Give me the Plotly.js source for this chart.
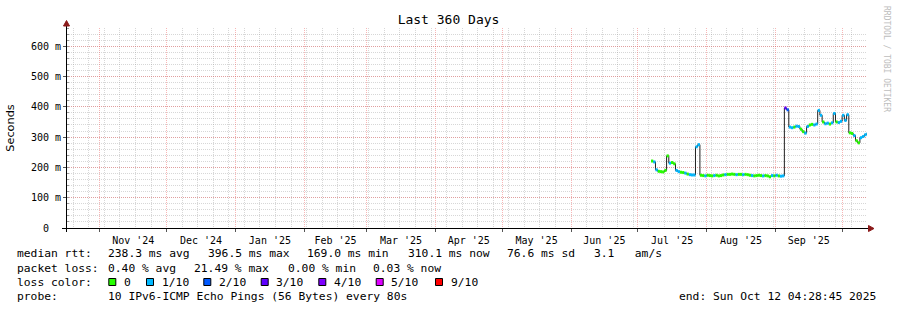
<!DOCTYPE html>
<html><head><meta charset="utf-8">
<script src="https://cdn.plot.ly/plotly-3.0.1.min.js"></script>
<style>html,body{margin:0;padding:0;background:#fff;}#chart{width:897px;height:310px;}</style>
</head><body><div id="chart"></div>
<script>
// ---- data ----
const rangeStart = '2024-10-17 04:28:45';
const rangeEnd = '2025-10-12 04:28:45';
const seriesStartUTC = [2025, 6, 7]; // 2025-07-07, one value per day
const medianRtt = [
 221, 218, 192, 187, 186, 185, 190, 238, 214, 216,
 212, 190, 186, 184, 183, 181, 178, 176, 175, 175,
 268, 275, 174, 173, 172, 174, 173, 172, 173, 174,
 172, 173, 175, 176, 177, 177, 178, 177, 176, 177,
 177, 176, 177, 176, 174, 173, 172, 173, 174, 173,
 172, 173, 172, 169, 173, 172, 174, 172, 171, 172,
 396, 390, 333, 331, 333, 336, 335, 326, 318, 313,
 335, 340, 342, 340, 343, 388, 372, 350, 344, 346,
 343, 347, 378, 350, 348, 352, 372, 355, 374, 314,
 312, 305, 288, 281, 298, 302, 308, 311
];
const lossTenths = [
 0,1,1,0,0,0,0,0,1,0,
 0,1,1,0,0,1,0,1,1,1,
 1,1,0,0,1,0,0,0,1,0,
 0,0,0,1,0,0,0,0,1,0,
 0,1,0,0,0,1,0,0,0,0,
 1,0,0,0,1,0,1,0,1,1,
 3,2,1,1,0,1,1,0,0,1,
 1,0,0,1,1,1,1,0,1,1,
 0,1,1,0,1,1,1,1,1,0,
 0,1,0,0,1,1,1,1
];
const lossLevels = [0, 1, 2, 3, 4, 5, 9];
const lossLabels = ['0', '1/10', '2/10', '3/10', '4/10', '5/10', '9/10'];
const lossColors = ['#26ff00', '#00b8ff', '#0059ff', '#5e00ff', '#7e00ff', '#dd00ff', '#ff0000'];
const yTickVals = [0, 100, 200, 300, 400, 500, 600];
const yTickText = ['0\u00a0\u00a0', '100 m', '200 m', '300 m', '400 m', '500 m', '600 m'];
const rttLabel = 'median rtt:';
const rttStats = ['238.3 ms avg', '396.5 ms max', '169.0 ms min', '310.1 ms now', '76.6 ms sd', '3.1   am/s'];
const lossLabel = 'packet loss:';
const lossStats = ['0.40 % avg', '21.49 % max', '0.00 % min', '0.03 % now'];
const colorLabel = 'loss color:';
const probeLabel = 'probe:';
const probeText = '10 IPv6-ICMP Echo Pings (56 Bytes) every 80s';
const endText = 'end: Sun Oct 12 04:28:45 2025';
const titleText = 'Last 360 Days';
const watermark = 'RRDTOOL / TOBI OETIKER';

// ---- layout helpers (pixel -> paper) ----
const L = 67, T = 28, W = 800, H = 200;
const px = x => (x - L) / W;
const py = y => (T + H - y) / H;
const MONO = 'DejaVu Sans Mono';

const days = medianRtt.map((_, i) => {
  const d = new Date(Date.UTC(seriesStartUTC[0], seriesStartUTC[1], seriesStartUTC[2] + i));
  return d.toISOString().slice(0, 10);
});
const xsLine = days.concat([rangeEnd]);
const ysLine = medianRtt.concat([medianRtt[medianRtt.length - 1]]);

const traces = [{
  type: 'scatter', mode: 'lines', x: xsLine, y: ysLine,
  line: {color: '#202020', width: 1, shape: 'hv'}, hoverinfo: 'skip', showlegend: false
}];
function levelIndex(v) {
  let idx = 0;
  for (let k = 0; k < lossLevels.length; k++) if (v >= lossLevels[k]) idx = k;
  return idx;
}
lossLevels.forEach((lv, k) => {
  const x = [], y = [];
  medianRtt.forEach((v, i) => {
    if (levelIndex(lossTenths[i]) === k) {
      x.push(xsLine[i], xsLine[i + 1], null);
      y.push(v, v, null);
    }
  });
  if (x.length) traces.push({
    type: 'scatter', mode: 'lines', x, y, connectgaps: false,
    line: {color: lossColors[k], width: 3}, hoverinfo: 'skip', showlegend: false
  });
});

const ann = [];
function txt(text, x, y, extra) {
  ann.push(Object.assign({text, x: px(x), y: py(y), xref: 'paper', yref: 'paper',
    xanchor: 'left', yanchor: 'middle', showarrow: false, borderpad: 0,
    font: {family: MONO, size: 11.3, color: '#000'}}, extra || {}));
}
// row 1
txt(rttLabel, 16, 254);
[107.3, 207.3, 305.7, 407.3, 506, 593.3].forEach((x, i) => txt(rttStats[i], x, 254));
// row 2
txt(lossLabel, 16, 268.3);
[107.3, 193.3, 286.7, 372.3].forEach((x, i) => txt(lossStats[i], x, 268.3));
// row 3
txt(colorLabel, 16, 282.3);
const boxX = [108.3, 146, 203.3, 260.7, 318.3, 375.7, 435];
const labX = [123.3, 160.7, 218.3, 275.3, 333.3, 390, 450];
const shapes = [];
lossLabels.forEach((lab, i) => {
  txt(lab, labX[i], 282.3);
  shapes.push({type: 'rect', xref: 'paper', yref: 'paper',
    x0: px(boxX[i] + 0.5), x1: px(boxX[i] + 7.5), y0: py(278.5), y1: py(285.5),
    fillcolor: lossColors[i], line: {color: '#000', width: 1}});
});
// row 4
txt(probeLabel, 16, 296);
txt(probeText, 107.3, 296);
txt(endText, 678.3, 296);
// watermark
ann.push({text: watermark, x: px(887), y: py(59), xref: 'paper', yref: 'paper',
  xanchor: 'center', yanchor: 'middle', textangle: 90, showarrow: false,
  font: {family: MONO, size: 8, color: '#bdbdbd'}});

// axis lines + arrows
shapes.push({type: 'line', xref: 'paper', yref: 'paper', x0: px(62), x1: px(869), y0: py(228.5), y1: py(228.5), line: {color: '#000', width: 1}});
shapes.push({type: 'line', xref: 'paper', yref: 'paper', x0: px(66.5), x1: px(66.5), y0: py(232), y1: py(25), line: {color: '#000', width: 1}});
const arrowCol = '#8b1a1a';
shapes.push({type: 'path', xref: 'paper', yref: 'paper', fillcolor: arrowCol, line: {color: arrowCol, width: 1},
  path: `M ${px(66.5)} ${py(20.5)} L ${px(63.5)} ${py(26)} L ${px(69.5)} ${py(26)} Z`});
shapes.push({type: 'path', xref: 'paper', yref: 'paper', fillcolor: arrowCol, line: {color: arrowCol, width: 1},
  path: `M ${px(874)} ${py(228.5)} L ${px(868.5)} ${py(225.5)} L ${px(868.5)} ${py(231.5)} Z`});

const majorGrid = 'rgba(235,80,80,0.42)';
const minorGrid = 'rgba(150,150,150,0.38)';
const layout = {
  width: 897, height: 310,
  margin: {l: L, r: 897 - L - W, t: T, b: 310 - T - H, pad: 0},
  paper_bgcolor: '#fff', plot_bgcolor: '#fff',
  title: {text: titleText, font: {family: MONO, size: 13, color: '#000'},
    x: 0.5, xref: 'container', xanchor: 'center', y: 1 - 19 / 310, yref: 'container', yanchor: 'middle'},
  xaxis: {
    type: 'date', range: [rangeStart, rangeEnd], autorange: false,
    tickmode: 'linear', tick0: '2024-11-01', dtick: 'M1', tickformat: "%b '%y", ticklabelmode: 'period',
    showgrid: true, gridcolor: majorGrid, gridwidth: 1, griddash: '1px,1px',
    ticks: 'outside', ticklen: 3, tickcolor: '#555', tickwidth: 1,
    showline: false, zeroline: false,
    tickfont: {family: MONO, size: 10, color: '#000'},
    minor: {tickmode: 'linear', tick0: '2024-10-20', dtick: 7 * 86400000, showgrid: true,
      gridcolor: minorGrid, gridwidth: 1, griddash: '1px,1px', ticks: ''}
  },
  yaxis: {
    range: [0, 660], autorange: false,
    tickmode: 'array', tickvals: yTickVals, ticktext: yTickText,
    showgrid: true, gridcolor: majorGrid, gridwidth: 1, griddash: '1px,1px',
    ticks: 'outside', ticklen: 3, tickcolor: '#555', tickwidth: 1,
    showline: false, zeroline: false, automargin: false,
    tickfont: {family: MONO, size: 10, color: '#000'},
    title: {text: 'Seconds', font: {family: 'DejaVu Sans', size: 11.3, color: '#000'}, standoff: 13},
    minor: {tickmode: 'linear', tick0: 0, dtick: 20, showgrid: true,
      gridcolor: minorGrid, gridwidth: 1, griddash: '1px,1px', ticks: 'inside', ticklen: 2, tickcolor: '#999'}
  },
  showlegend: false,
  annotations: ann,
  shapes: shapes
};
Plotly.newPlot('chart', traces, layout, {displayModeBar: false, staticPlot: true});
</script></body></html>
